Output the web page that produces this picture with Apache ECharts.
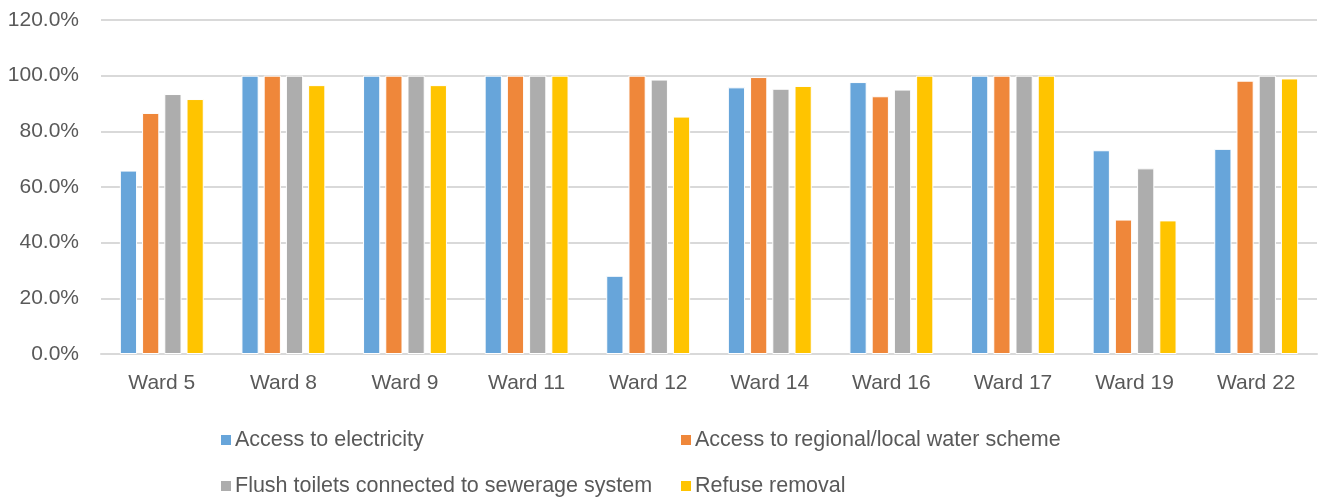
<!DOCTYPE html>
<html>
<head>
<meta charset="utf-8">
<script src="https://cdn.jsdelivr.net/npm/echarts@6/dist/echarts.min.js"></script>
<style>
  html, body { margin: 0; padding: 0; background: #fff; }
  #chart { width: 1322px; height: 499px; }
</style>
</head>
<body>
<div id="chart"></div>
<script>
  // ward names on the x axis
  const wards = ["Ward 5", "Ward 8", "Ward 9", "Ward 11", "Ward 12", "Ward 14", "Ward 16", "Ward 17", "Ward 19", "Ward 22"];

  // percentages
  const electricity = [65.9, 100, 100, 100, 28.1, 95.8, 97.7, 100, 73.2, 73.7];
  const water = [86.6, 100, 100, 100, 100, 99.5, 92.6, 100, 48.3, 98.2];
  const toilets = [93.4, 100, 100, 100, 98.6, 95.3, 95.0, 100, 66.7, 100];
  const refuse = [91.6, 96.6, 96.6, 100, 85.3, 96.3, 100, 100, 48.0, 99.0];

  const seriesNames = [
    "Access to electricity",
    "Access to regional/local water scheme",
    "Flush toilets connected to sewerage system",
    "Refuse removal"
  ];
  const colors = ["#67A5DA", "#EF873A", "#ADADAD", "#FFC400"];

  const font = "'Liberation Sans', Arial, sans-serif";
  const textColor = "#595959";

  const chart = echarts.init(document.getElementById("chart"));

  // one legend per item so they line up in two columns like the original
  const legendPos = [
    { left: 214, top: 424 },
    { left: 674, top: 424 },
    { left: 214, top: 470 },
    { left: 674, top: 470 }
  ];
  const legends = seriesNames.map((name, i) => ({
    data: [name],
    left: legendPos[i].left,
    top: legendPos[i].top,
    icon: "rect",
    itemWidth: 12,
    itemHeight: 12,
    itemGap: 0,
    textStyle: {
      color: textColor,
      fontSize: 21.5,
      fontFamily: font,
      padding: [0, 0, 0, -2]
    }
  }));

  const dataSets = [electricity, water, toilets, refuse];

  chart.setOption({
    animation: false,
    legend: legends,
    grid: {
      left: 101,
      right: 5,
      top: 20,
      bottom: 145
    },
    xAxis: {
      type: "category",
      data: wards,
      axisTick: { show: false },
      axisLine: { lineStyle: { color: "#D9D9D9", width: 2 } },
      axisLabel: {
        color: textColor,
        fontSize: 21,
        fontFamily: font,
        margin: 19
      }
    },
    yAxis: {
      type: "value",
      min: 0,
      max: 120,
      interval: 20,
      axisLine: { show: false },
      axisTick: { show: false },
      splitLine: { lineStyle: { color: "#D9D9D9", width: 2 } },
      axisLabel: {
        color: textColor,
        fontSize: 21,
        fontFamily: font,
        margin: 22,
        formatter: v => v.toFixed(1) + "%"
      }
    },
    series: dataSets.map((d, i) => ({
      name: seriesNames[i],
      type: "bar",
      data: d,
      barGap: "29%",
      barCategoryGap: "31%",
      itemStyle: {
        color: colors[i],
        borderColor: "#ffffff",
        borderWidth: 1
      }
    }))
  });
</script>
</body>
</html>
